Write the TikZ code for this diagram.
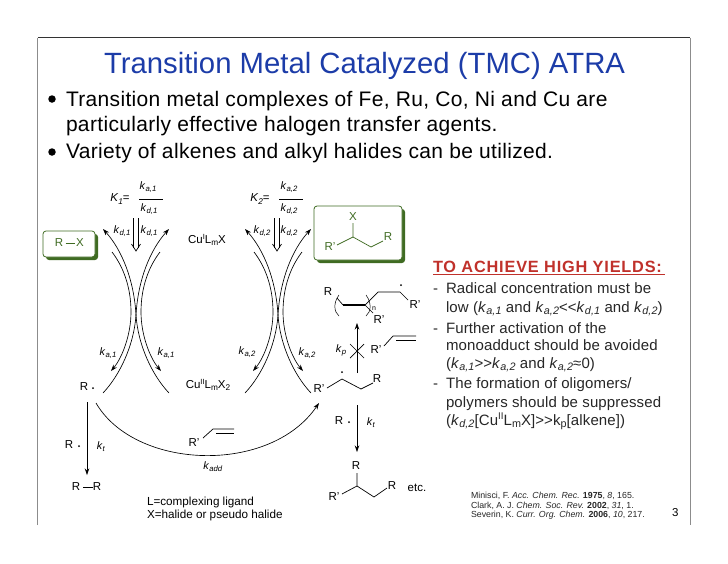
\documentclass[tikz,border=0pt]{standalone}
\usepackage{fontspec}
\setmainfont{Liberation Sans}
\usetikzlibrary{arrows.meta}
\definecolor{boxgreen}{HTML}{3F6B22}
\definecolor{titleblue}{HTML}{1C3CA8}
\definecolor{headred}{HTML}{C0312B}
\newcommand{\sbs}[1]{\raisebox{-0.35ex}{\scalebox{0.72}{#1}}}
\newcommand{\kk}[2]{\textit{k}\sbs{\textit{#1,#2}}}
\newcommand{\sups}[1]{\raisebox{0.75ex}{\scalebox{0.65}{#1}}}
\tikzset{
  x=1pt,y=-1pt,
  txt/.style={inner sep=0pt,outer sep=0pt,anchor=base west,align=left},
  chem/.style={inner sep=0pt,outer sep=0pt,anchor=center,font=\fontsize{11.5}{13}\selectfont},
  klab/.style={inner sep=0pt,outer sep=0pt,anchor=center,font=\fontsize{10.8}{12}\selectfont},
  arr/.style={line width=0.65pt,-{Stealth[length=6.5pt,width=4.5pt]}},
  bond/.style={line width=0.7pt},
  dblline/.style={line width=0.7pt},
  greenbox/.style={draw=boxgreen,fill=white,line width=0.8pt,rounded corners=3pt},
  greenshadow/.style={fill=boxgreen,rounded corners=3pt},
  body/.style={txt,font=\fontsize{15}{17}\selectfont\addfontfeature{LetterSpace=0.9},text=black!85},
  bull/.style={txt,font=\fontsize{21}{24}\selectfont\addfontfeature{LetterSpace=1.6}},
  refs/.style={txt,font=\fontsize{8.8}{10}\selectfont,text=black!85},
  frameline/.style={line width=0.7pt,draw=black!45},
}
\begin{document}
\begin{tikzpicture}
\useasboundingbox (0,0) rectangle (728,563);
% frame
\coordinate (fa) at (37.5,525); \coordinate (fb) at (37.5,37.5);
\coordinate (fc) at (690,37.5); \coordinate (fd) at (690,525);
\draw[frameline] (fa) -- (fb);
\draw[line width=0.7pt,black!80] (fb) -- (fc);
\draw[frameline] (fc) -- (fd);
% title and bullets
\node[txt,text=titleblue,font=\fontsize{29.3}{32}\selectfont] (title) at (104,73) {Transition Metal Catalyzed (TMC) ATRA};
\node[circle,fill=black,inner sep=0pt,minimum size=7.5pt] (b1) at (52,99) {};
\node[circle,fill=black,inner sep=0pt,minimum size=7.5pt] (b2) at (52,152) {};
\node[bull] (l1) at (66,106) {Transition metal complexes of Fe, Ru, Co, Ni and Cu are};
\node[bull] (l2) at (66,131) {particularly effective halogen transfer agents.};
\node[bull] (l3) at (66,158) {Variety of alkenes and alkyl halides can be utilized.};
% K1, K2
\node[chem] (K1) at (120,199) {\textit{K}\sbs{\textit{1}}=};
\coordinate (f1a) at (139,199); \coordinate (f1b) at (163,199);
\draw[line width=0.9pt] (f1a) -- (f1b);
\node[klab] (ka1top) at (148,187) {\kk{a}{1}};
\node[klab] (kd1top) at (149,209) {\kk{d}{1}};
\node[chem] (K2) at (260,199) {\textit{K}\sbs{\textit{2}}=};
\coordinate (f2a) at (279,199); \coordinate (f2b) at (303,199);
\draw[line width=0.9pt] (f2a) -- (f2b);
\node[klab] (ka2top) at (289,187) {\kk{a}{2}};
\node[klab] (kd2top) at (289,209) {\kk{d}{2}};
% double arrows
\foreach \mx in {136,277}{
  \draw[dblline] (\mx-2.400,218) -- (\mx-2.400,248);
  \draw[dblline] (\mx+2.400,218) -- (\mx+2.400,248);
  \draw[dblline] (\mx-4.500,244) -- (\mx,251) -- (\mx+4.500,244);
}
\node[klab] (kd1l) at (122,231) {\kk{d}{1}};
\node[klab] (kd1r) at (149,231) {\kk{d}{1}};
\node[klab] (kd2l) at (262,231) {\kk{d}{2}};
\node[klab] (kd2r) at (289,231) {\kk{d}{2}};
\node[klab] (ka1l) at (108,353) {\kk{a}{1}};
\node[klab] (ka1r) at (166,353) {\kk{a}{1}};
\node[klab] (ka2l) at (247,352) {\kk{a}{2}};
\node[klab] (ka2r) at (307,353) {\kk{a}{2}};
% R-X box
\fill[greenshadow] (46,234) rectangle (98,260);
\node[greenbox,minimum width=52pt,minimum height=26pt,inner sep=0pt] (rx) at (69,244) {};
\node[chem,text=boxgreen] (rxr) at (59,243) {R};
\node[chem,text=boxgreen] (rxx) at (80,243) {X};
\coordinate (rxa) at (65.500,243); \coordinate (rxb) at (75,243);
\draw[line width=0.9pt,boxgreen] (rxa) -- (rxb);
% Cu
\node[chem] (cu1) at (207,240) {Cu\sups{I}L\sbs{m}X};
\node[chem] (cu2) at (208,385) {Cu\sups{II}L\sbs{m}X\sbs{2}};
% hourglass curves, pair 1 and pair 2
\foreach \dx in {0,142}{
\begin{scope}[xshift=\dx pt]
  \draw[arr] (112,252) .. controls (122,265) and (131,285) .. (131,312) .. controls (131,335) and (122,358) .. (111,371);
  \draw[arr] (160,252) .. controls (150,265) and (141,285) .. (141,312) .. controls (141,335) and (150,358) .. (161,371);
  \draw[arr] (169,393) .. controls (152,375) and (138,345) .. (136,315) .. controls (134,280) and (122,250) .. (103,229);
  \draw[arr] (103,393) .. controls (120,375) and (134,345) .. (136,315) .. controls (138,280) and (150,250) .. (169,229);
\end{scope}}
% product box
\fill[greenshadow] (317,209) rectangle (405,263);
\node[greenbox,minimum width=88pt,minimum height=54pt,inner sep=0pt] (pbox) at (358,233) {};
\node[chem,text=boxgreen] (pX) at (353,217) {X};
\node[chem,text=boxgreen] (pRp) at (330,247) {R'};
\node[chem,text=boxgreen] (pR) at (388,237) {R};
\draw[bond,boxgreen] (353,223) -- (353,237) coordinate (pc) -- (337,245);
\draw[bond,boxgreen] (pc) -- (371,247) -- (383,241);
% polymer radical
\node[chem] (polyR) at (328,292) {R};
\node[chem] (polyRp1) at (415,305) {R'};
\node[chem] (polyRp2) at (379,320) {R'};
\node[inner sep=0pt,font=\fontsize{7}{8}\selectfont] (polyn) at (374,309) {n};
\fill (401,285) circle (1pt);
\draw[bond] (337,298) -- (343,305);
\draw[line width=1.5pt] (343,305) -- (365,305);
\draw[bond] (365,305) -- (378,292) -- (400,292) -- (408,300);
\draw[bond] (365,305) -- (373,313);
\draw[line width=0.5pt] (339,295) .. controls (333,303) and (334,312) .. (339,316);
\draw[line width=0.5pt] (366,295) .. controls (372,303) and (371,312) .. (366,316);
% kp arrow
\coordinate (kpa) at (357,373); \coordinate (kpb) at (357,323);
\draw[arr] (kpa) -- (kpb);
\draw[line width=0.7pt] (350,344) -- (364,358) (364,344) -- (350,358);
\node[klab] (kp) at (341,350) {\textit{k}\sbs{\textit{p}}};
\node[chem] (alkRp) at (376,350) {R'};
\draw[bond] (384,346) -- (393,336) -- (416,336);
\draw[bond] (396,340) -- (416,340);
% radical adduct
\node[chem] (raRp) at (319,389) {R'};
\node[chem] (raR) at (377,379) {R};
\fill (342,372) circle (1pt);
\draw[bond] (327,388) -- (342,379) -- (361,389) -- (373,383);
\coordinate (kta) at (357,405); \coordinate (ktb) at (357,452);
\draw[arr] (kta) -- (ktb);
\node[chem] (rr2) at (339,421) {R};
\fill (349,422) circle (1pt);
\node[klab] (kt2) at (371,423) {\textit{k}\sbs{\textit{t}}};
% product
\node[chem] (prR) at (356,466) {R};
\node[chem] (prRp) at (334,497) {R'};
\node[chem] (prR2) at (392,486) {R};
\node[chem] (etc) at (417,488) {etc.};
\draw[bond] (357,473) -- (357,486) coordinate (prc) -- (342,494);
\draw[bond] (prc) -- (374,497) -- (387,488);
% left column
\node[chem] (R1) at (84,387) {R};
\fill (93,388) circle (1pt);
\coordinate (tla) at (87,402); \coordinate (tlb) at (87,475);
\draw[arr] (tla) -- (tlb);
\node[chem] (R2) at (69,445) {R};
\fill (79,446) circle (1pt);
\node[klab] (kt1) at (101,447) {\textit{k}\sbs{\textit{t}}};
\node[chem] (rrA) at (76,487) {R};
\node[chem] (rrB) at (97,487) {R};
\coordinate (rra) at (83,487); \coordinate (rrb) at (93,487);
\draw[line width=0.9pt] (rra) -- (rrb);
% kadd
\coordinate (adda) at (96,403); \coordinate (addb) at (319,403);
\draw[arr] (adda) .. controls (135,470) and (270,475) .. (addb);
\node[chem] (addRp) at (194,443) {R'};
\draw[bond] (203,438) -- (213,429) -- (234,429);
\draw[bond] (216,433) -- (234,433);
\node[klab] (kadd) at (213,467) {\textit{k}\sbs{\textit{add}}};
% legend
\node[txt,font=\fontsize{11.7}{13}\selectfont] (leg1) at (147,505) {L=complexing ligand};
\node[txt,font=\fontsize{11.7}{13}\selectfont] (leg2) at (147,518) {X=halide or pseudo halide};
% right text
\node[txt,text=headred,font=\bfseries\fontsize{16.3}{18}\selectfont\addfontfeature{LetterSpace=5}] (head) at (433,272) {TO ACHIEVE HIGH YIELDS:};
\coordinate (ua) at (433,274); \coordinate (ub) at (665,274);
\draw[headred,line width=0.9pt] (ua) -- (ub);
\node[body] (d1) at (433,293) {-};
\node[body] (t1) at (446,293) {Radical concentration must be};
\node[body] (t2) at (446,312) {low (\kk{a}{1} and \kk{a}{2}<\kern0pt<\kk{d}{1} and \kk{d}{2})};
\node[body] (d2) at (433,333) {-};
\node[body] (t3) at (446,333) {Further activation of the};
\node[body] (t4) at (446,350) {monoadduct should be avoided};
\node[body] (t5) at (446,368) {(\kk{a}{1}>\kern0pt>\kk{a}{2} and \kk{a}{2}≈0)};
\node[body] (d3) at (433,388) {-};
\node[body] (t6) at (446,388) {The formation of oligomers/};
\node[body] (t7) at (446,407) {polymers should be suppressed};
\node[body] (t8) at (446,425) {(\kk{d}{2}[Cu\sups{II}L\sbs{m}X]>\kern0pt>k\sbs{p}[alkene])};
% references
\node[refs] (r1) at (471,498) {Minisci, F. \textit{Acc. Chem. Rec.} \textbf{1975}, \textit{8}, 165.};
\node[refs] (r2) at (471,508) {Clark, A. J. \textit{Chem. Soc. Rev.} \textbf{2002}, \textit{31}, 1.};
\node[refs] (r3) at (471,517) {Severin, K. \textit{Curr. Org. Chem.} \textbf{2006}, \textit{10}, 217.};
\node[txt,font=\fontsize{11.5}{13}\selectfont] (pg) at (672,516) {3};
\end{tikzpicture}
\end{document}
